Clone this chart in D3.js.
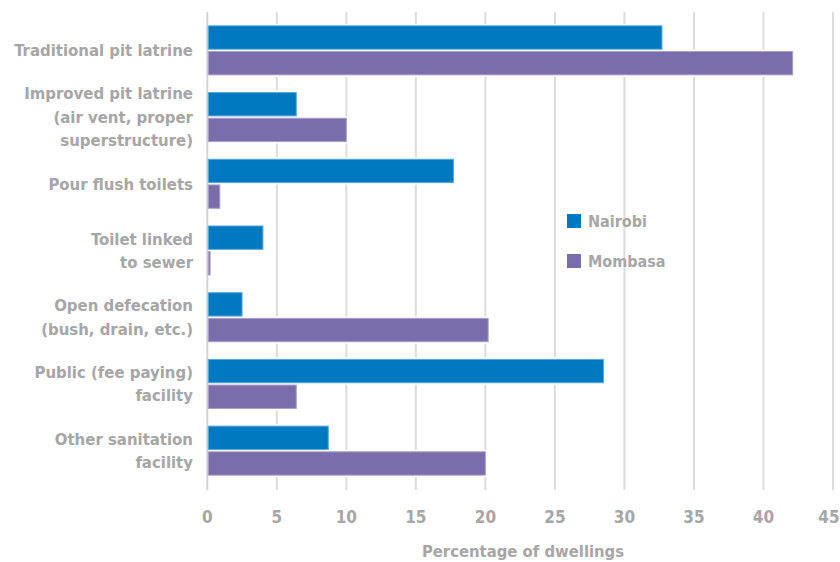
<!DOCTYPE html>
<html>
<head>
<meta charset="utf-8">
<script src="https://cdn.jsdelivr.net/npm/d3@7"></script>
<style>
  html, body { margin: 0; padding: 0; background: #fff; }
  svg text { font-family: "DejaVu Sans Condensed", "DejaVu Sans", sans-serif; font-stretch: condensed; fill: #a6a6a6; font-weight: bold; }
</style>
</head>
<body>
<svg id="chart" width="840" height="562"></svg>
<script>
// Sanitation facility type, share of dwellings (%)
const categories = [
  ["Traditional pit latrine"],
  ["Improved pit latrine", "(air vent, proper", "superstructure)"],
  ["Pour flush toilets"],
  ["Toilet linked", "to sewer"],
  ["Open defecation", "(bush, drain, etc.)"],
  ["Public (fee paying)", "facility"],
  ["Other sanitation", "facility"]
];
const nairobi = [32.7, 6.4, 17.7, 4.0, 2.5, 28.5, 8.7];
const mombasa = [42.1, 10.0, 0.9, 0.2, 20.2, 6.4, 20.0];
const seriesNames = ["Nairobi", "Mombasa"];
const seriesColors = ["#0079c1", "#7a6dab"];
const xTicks = [0, 5, 10, 15, 20, 25, 30, 35, 40, 45];
const xTitle = "Percentage of dwellings";

const svg = d3.select("#chart");
const plotLeft = 207.3, plotRight = 833, plotTop = 12, plotBottom = 490;

const x = d3.scaleLinear().domain([0, 45]).range([plotLeft, plotRight]);
const y = d3.scaleBand().domain(d3.range(categories.length))
  .range([17, 484]).paddingInner(0.265).paddingOuter(0.1325);
const ySub = d3.scaleBand().domain([0, 1]).range([0, y.bandwidth()]).paddingInner(0.09);

// vertical gridlines
svg.append("g").selectAll("line").data(xTicks.slice(1)).join("line")
  .attr("x1", d => x(d)).attr("x2", d => x(d))
  .attr("y1", plotTop).attr("y2", plotBottom)
  .attr("stroke", "#dcdcdc").attr("stroke-width", 2);

// category axis line
svg.append("line").attr("x1", x(0)).attr("x2", x(0))
  .attr("y1", plotTop).attr("y2", plotBottom)
  .attr("stroke", "#d4d4d4").attr("stroke-width", 2);

// bars
const rows = categories.map((c, i) => ({ i, vals: [nairobi[i], mombasa[i]] }));
const barData = rows.flatMap(r => r.vals.map((v, s) => ({ i: r.i, s, v })));
const bars = svg.append("g");
bars.selectAll("rect.halo").data(barData).join("rect")
  .attr("class", "halo")
  .attr("x", x(0) + 1)
  .attr("y", d => y(d.i) + ySub(d.s) - 2)
  .attr("width", d => Math.max(0, x(d.v) - x(0)) + 1)
  .attr("height", ySub.bandwidth() + 4)
  .attr("fill", "#fff");
bars.selectAll("rect.bar").data(barData).join("rect")
  .attr("class", "bar")
  .attr("x", x(0) + 1)
  .attr("y", d => y(d.i) + ySub(d.s))
  .attr("width", d => Math.max(1, x(d.v) - x(0) - 1))
  .attr("height", ySub.bandwidth())
  .attr("fill", d => seriesColors[d.s])
  .attr("stroke", d => d3.interpolateRgb(seriesColors[d.s], "#fff")(0.35))
  .attr("stroke-width", 1);

// category labels
const labels = svg.append("g").selectAll("text").data(categories).join("text")
  .attr("text-anchor", "end")
  .attr("font-size", 16.6);
labels.each(function(lines, i) {
  const cy = y(i) + y.bandwidth() / 2;
  const lh = 23.5;
  const y0 = cy - (lines.length - 1) * lh / 2;
  d3.select(this).selectAll("tspan").data(lines).join("tspan")
    .attr("x", 193)
    .attr("y", (d, k) => y0 + k * lh)
    .attr("dy", "0.35em")
    .text(d => d);
});

// x tick labels (the last one is kept inside the canvas)
svg.append("g").selectAll("text").data(xTicks).join("text")
  .attr("x", d => Math.min(x(d), 829)).attr("y", 517).attr("dy", "0.35em")
  .attr("text-anchor", "middle").attr("font-size", 17)
  .text(d => d);

// axis title
svg.append("text").attr("x", 523).attr("y", 551).attr("dy", "0.35em")
  .attr("text-anchor", "middle").attr("font-size", 16.5)
  .text(xTitle);

// legend
const legend = svg.append("g").selectAll("g").data(seriesNames).join("g")
  .attr("transform", (d, k) => `translate(567, ${214 + k * 40})`);
legend.append("rect").attr("width", 14).attr("height", 14)
  .attr("fill", (d, k) => seriesColors[k]);
legend.append("text").attr("x", 21).attr("y", 7).attr("dy", "0.35em")
  .attr("font-size", 16).text(d => d);
</script>
</body>
</html>
